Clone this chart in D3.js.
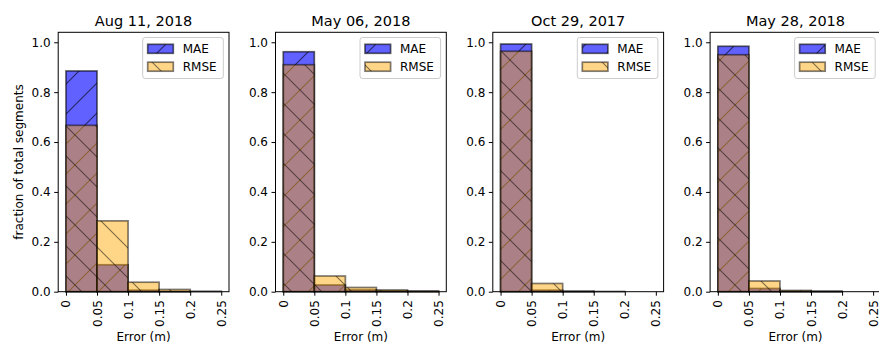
<!DOCTYPE html>
<html>
<head>
<meta charset="utf-8">
<script src="https://cdn.jsdelivr.net/npm/d3@7"></script>
<style>
  html, body { margin: 0; padding: 0; background: #fff; }
  svg { display: block; font-family: "DejaVu Sans", sans-serif; }
</style>
</head>
<body>
<svg id="chart" width="879" height="343"></svg>
<script>
// Histogram of segment errors, one panel per survey date
const titles = ["Aug 11, 2018", "May 06, 2018", "Oct 29, 2017", "May 28, 2018"];
const binEdges = [0, 0.05, 0.1, 0.15, 0.2, 0.25];
const xTickLabels = ["0", "0.05", "0.1", "0.15", "0.2", "0.25"];
const yTickValues = [0, 0.2, 0.4, 0.6, 0.8, 1.0];
const seriesNames = ["MAE", "RMSE"];

// fraction of total segments per error bin
const maeAug11 = [0.885, 0.108, 0.006, 0.001, 0.0];
const rmseAug11 = [0.667, 0.284, 0.038, 0.009, 0.002];
const maeMay06 = [0.962, 0.027, 0.007, 0.003, 0.001];
const rmseMay06 = [0.910, 0.063, 0.017, 0.007, 0.003];
const maeOct29 = [0.993, 0.006, 0.001, 0.0, 0.0];
const rmseOct29 = [0.964, 0.033, 0.002, 0.001, 0.0];
const maeMay28 = [0.984, 0.013, 0.002, 0.001, 0.0];
const rmseMay28 = [0.950, 0.043, 0.005, 0.002, 0.0];

const maeByPanel = [maeAug11, maeMay06, maeOct29, maeMay28];
const rmseByPanel = [rmseAug11, rmseMay06, rmseOct29, rmseMay28];

const svg = d3.select("#chart");

// hatch patterns, anchored to the page so they line up across bars
const defs = svg.append("defs");
const tile = 30;
function hatch(id, forward, opacity) {
  const p = defs.append("pattern")
    .attr("id", id)
    .attr("patternUnits", "userSpaceOnUse")
    .attr("width", tile).attr("height", tile);
  const d = forward
    ? `M0,${tile} L${tile},0 M${-tile/2},${tile/2} L${tile/2},${-tile/2} M${tile/2},${tile*1.5} L${tile*1.5},${tile/2}`
    : `M0,0 L${tile},${tile} M${-tile/2},${tile/2} L${tile/2},${tile*1.5} M${tile/2},${-tile/2} L${tile*1.5},${tile/2}`;
  p.append("path").attr("d", d)
    .attr("stroke", "#000").attr("stroke-opacity", opacity)
    .attr("stroke-width", 1.1).attr("fill", "none");
}
hatch("hatch-mae", true, 0.6);
hatch("hatch-rmse", false, 0.5);

const styles = [
  { fill: "#0000ff", fillOpacity: 0.62, hatch: "url(#hatch-mae)", edgeOpacity: 0.6 },
  { fill: "#ffa500", fillOpacity: 0.47, hatch: "url(#hatch-rmse)", edgeOpacity: 0.5 }
];

const panelLeft0 = 58.2, panelStep = 217.3, panelWidth = 170.8;
const plotTop = 32.3, plotBottom = 291.7;

const y = d3.scaleLinear().domain([0, 1.04]).range([plotBottom, plotTop]);

function drawBar(g, x, x0, x1, v, st) {
  const rx = x(x0), rw = x(x1) - x(x0), ry = y(v), rh = y(0) - y(v);
  g.append("rect").attr("x", rx).attr("y", ry).attr("width", rw).attr("height", rh)
    .attr("fill", st.fill).attr("fill-opacity", st.fillOpacity);
  g.append("rect").attr("x", rx).attr("y", ry).attr("width", rw).attr("height", rh)
    .attr("fill", st.hatch);
  g.append("rect").attr("x", rx).attr("y", ry).attr("width", rw).attr("height", rh)
    .attr("fill", "none").attr("stroke", "#000").attr("stroke-opacity", st.edgeOpacity)
    .attr("stroke-width", 1.7);
}

titles.forEach((title, i) => {
  const left = panelLeft0 + i * panelStep;
  const right = left + panelWidth;
  const x = d3.scaleLinear().domain([-0.0125, 0.2625]).range([left, right]);
  const g = svg.append("g");

  // bars: MAE first, RMSE layered on top
  [maeByPanel[i], rmseByPanel[i]].forEach((vals, s) => {
    vals.forEach((v, b) => drawBar(g, x, binEdges[b], binEdges[b + 1], v, styles[s]));
  });

  // frame
  g.append("rect").attr("x", left).attr("y", plotTop)
    .attr("width", panelWidth).attr("height", plotBottom - plotTop)
    .attr("fill", "none").attr("stroke", "#000").attr("stroke-width", 1);

  // y axis
  const yAxis = d3.axisLeft(y).tickValues(yTickValues).tickFormat(d3.format(".1f"))
    .tickSize(4).tickPadding(3.5);
  const ya = g.append("g").attr("transform", `translate(${left},0)`).call(yAxis);
  ya.select(".domain").remove();
  ya.selectAll("text").attr("font-size", 12).attr("fill", "#000")
    .attr("font-family", "DejaVu Sans");
  ya.selectAll("line").attr("stroke", "#000");

  // x axis with rotated labels
  const xAxis = d3.axisBottom(x).tickValues(binEdges)
    .tickFormat((d, k) => xTickLabels[k]).tickSize(4);
  const xa = g.append("g").attr("transform", `translate(0,${plotBottom})`).call(xAxis);
  xa.select(".domain").remove();
  xa.selectAll("line").attr("stroke", "#000");
  xa.selectAll("text")
    .attr("font-size", 12).attr("fill", "#000").attr("font-family", "DejaVu Sans")
    .attr("text-anchor", "end").attr("dy", null).attr("y", 0)
    .attr("dominant-baseline", "central")
    .attr("transform", "translate(0,8.5) rotate(-90)");

  // title and axis label
  svg.append("text").attr("x", (left + right) / 2).attr("y", 25.7)
    .attr("text-anchor", "middle").attr("font-size", 14.5).text(title);
  svg.append("text").attr("x", (left + right) / 2).attr("y", 341)
    .attr("text-anchor", "middle").attr("font-size", 12).text("Error (m)");

  // legend
  const lg = svg.append("g");
  lg.append("rect").attr("x", right - 86.3).attr("y", 37.5)
    .attr("width", 80.6).attr("height", 41).attr("rx", 2.5)
    .attr("fill", "#fff").attr("fill-opacity", 0.8)
    .attr("stroke", "#cccccc").attr("stroke-width", 1);
  const rowsY = [48.8, 66.7];
  seriesNames.forEach((name, s) => {
    const st = styles[s];
    const hx = right - 81.3, hw = 25.6, hy = rowsY[s] - 4.5, hh = 9;
    lg.append("rect").attr("x", hx).attr("y", hy).attr("width", hw).attr("height", hh)
      .attr("fill", st.fill).attr("fill-opacity", st.fillOpacity);
    lg.append("rect").attr("x", hx).attr("y", hy).attr("width", hw).attr("height", hh)
      .attr("fill", st.hatch);
    lg.append("rect").attr("x", hx).attr("y", hy).attr("width", hw).attr("height", hh)
      .attr("fill", "none").attr("stroke", "#000").attr("stroke-opacity", st.edgeOpacity)
      .attr("stroke-width", 1.7);
    lg.append("text").attr("x", right - 46.3).attr("y", rowsY[s])
      .attr("dominant-baseline", "central").attr("font-size", 12).text(name);
  });
});

// shared y label on the first panel
svg.append("text")
  .attr("transform", `translate(22.5,${(plotTop + plotBottom) / 2}) rotate(-90)`)
  .attr("text-anchor", "middle").attr("font-size", 12)
  .text("fraction of total segments");
</script>
</body>
</html>
